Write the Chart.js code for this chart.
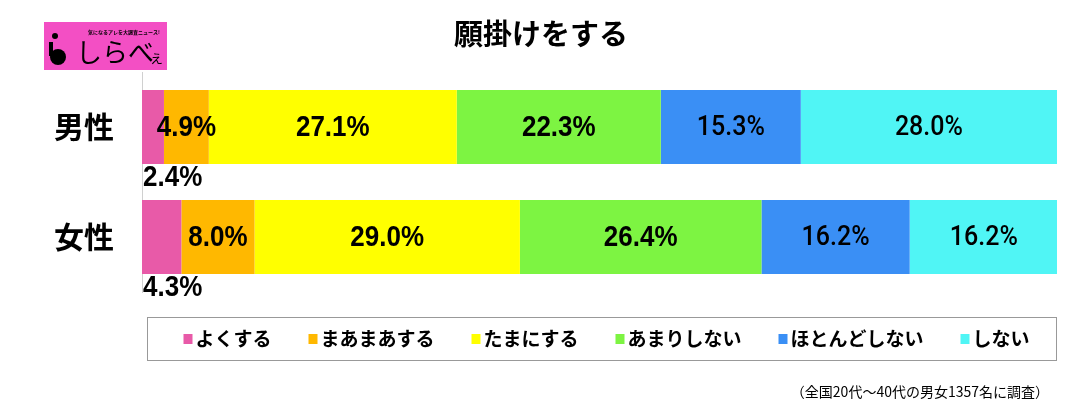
<!DOCTYPE html>
<html>
<head>
<meta charset="utf-8">
<script src="https://cdn.jsdelivr.net/npm/chart.js@4/dist/chart.umd.min.js"></script>
<style>
  body { margin: 0; background: #fff; }
  canvas { display: block; }
</style>
</head>
<body>
<canvas id="myChart" width="1089" height="414"></canvas>
<script>
let categories = ['男性', '女性'];
let seriesNames = ['よくする', 'まあまあする', 'たまにする', 'あまりしない', 'ほとんどしない', 'しない'];

let yokuSuru = [2.4, 4.3];
let maamaaSuru = [4.9, 8.0];
let tamaniSuru = [27.1, 29.0];
let amariShinai = [22.3, 26.4];
let hotondoShinai = [15.3, 16.2];
let shinai = [28.0, 16.2];

let seriesValues = [yokuSuru, maamaaSuru, tamaniSuru, amariShinai, hotondoShinai, shinai];
let colors = ['#E85AA8', '#FFB800', '#FFFF00', '#7DF442', '#3A8FF5', '#50F5F5'];

let title = '願掛けをする';
let footnote = '（全国20代～40代の男女1357名に調査）';

let jpFont = '"Noto Sans CJK JP", "Noto Sans", sans-serif';

// values on the bars
let barLabels = {
    id: 'barLabels',
    afterDatasetsDraw(chart) {
        let ctx = chart.ctx;
        ctx.save();
        ctx.fillStyle = '#000';
        chart.data.datasets.forEach((ds, i) => {
            let meta = chart.getDatasetMeta(i);
            meta.data.forEach((bar, j) => {
                let txt = ds.data[j].toFixed(1) + '%';
                if (i >= 4) {
                    ctx.font = '500 25px Roboto, "Liberation Sans", sans-serif';
                } else {
                    ctx.font = 'bold 26px "Liberation Sans", Arial, sans-serif';
                }
                ctx.textBaseline = 'middle';
                let cx, cy;
                if (i === 0) {
                    ctx.textAlign = 'left';
                    cx = bar.base + 1;
                    cy = bar.y + bar.height / 2 + 14;
                } else {
                    ctx.textAlign = 'center';
                    cx = (bar.x + bar.base) / 2;
                    cy = bar.y + 1;
                }
                ctx.save();
                ctx.translate(cx, cy);
                ctx.scale(1, 1.12);
                ctx.fillText(txt, 0, 0);
                ctx.restore();
            });
        });
        ctx.restore();
    }
};

// title, logo, legend box, footnote
let decorations = {
    id: 'decorations',
    afterDraw(chart) {
        let ctx = chart.ctx;
        ctx.save();

        // title
        ctx.fillStyle = '#000';
        ctx.font = 'bold 29px ' + jpFont;
        ctx.textAlign = 'center';
        ctx.textBaseline = 'middle';
        ctx.fillText(title, 541, 34);

        // logo
        ctx.fillStyle = '#F34FC4';
        ctx.fillRect(44, 22, 123, 48);
        ctx.fillStyle = '#000';
        ctx.beginPath();
        ctx.arc(58, 57, 8, 0, Math.PI * 2);
        ctx.fill();
        ctx.beginPath();
        ctx.arc(55, 36, 3, 0, Math.PI * 2);
        ctx.fill();
        ctx.lineWidth = 4;
        ctx.strokeStyle = '#000';
        ctx.beginPath();
        ctx.moveTo(51, 42);
        ctx.lineTo(51, 56);
        ctx.stroke();
        ctx.font = '26px ' + jpFont;
        ctx.textAlign = 'left';
        ctx.fillText('しらべ', 76, 52);
        ctx.font = '15px ' + jpFont;
        ctx.fillText('ぇ', 149, 57);
        ctx.font = 'bold 5px ' + jpFont;
        ctx.fillText('気になるアレを大調査ニュース!', 88, 32);

        // legend box
        ctx.strokeStyle = '#999';
        ctx.lineWidth = 1;
        ctx.strokeRect(147.5, 317.5, 909, 43);
        ctx.font = 'bold 19px ' + jpFont;
        ctx.textBaseline = 'middle';
        let sq = 9, gap = 3, spacing = 37;
        let widths = seriesNames.map(n => sq + gap + ctx.measureText(n).width);
        let total = widths.reduce((a, b) => a + b, 0) + spacing * (seriesNames.length - 1);
        let x = 152 + (909 - total) / 2;
        let y = 339;
        seriesNames.forEach((n, i) => {
            ctx.fillStyle = colors[i];
            ctx.fillRect(x, y - 5, sq, sq + 1);
            ctx.fillStyle = '#000';
            ctx.fillText(n, x + sq + gap, y);
            x += widths[i] + spacing;
        });

        // footnote
        ctx.font = '14px ' + jpFont;
        ctx.textAlign = 'right';
        ctx.fillText(footnote, 1049, 392);

        ctx.restore();
    }
};

let ctx = document.getElementById('myChart').getContext('2d');
let myChart = new Chart(ctx, {
    type: 'bar',
    data: {
        labels: categories,
        datasets: seriesValues.map((vals, i) => ({
            label: seriesNames[i],
            data: vals,
            backgroundColor: colors[i],
            borderWidth: 0,
            barPercentage: 0.673,
            categoryPercentage: 1
        }))
    },
    options: {
        indexAxis: 'y',
        responsive: false,
        animation: false,
        layout: {
            padding: { top: 72, bottom: 122, left: 0, right: 32 }
        },
        plugins: {
            legend: { display: false },
            tooltip: { enabled: false }
        },
        scales: {
            x: {
                stacked: true,
                display: false,
                min: 0,
                max: 100
            },
            y: {
                stacked: true,
                afterFit(scale) { scale.width = 142; },
                grid: { display: false, drawTicks: false },
                border: { display: true, color: '#d0d0d0', width: 1 },
                ticks: {
                    padding: 28,
                    color: '#000',
                    font: { family: jpFont, size: 30, weight: 'bold' }
                }
            }
        }
    },
    plugins: [barLabels, decorations]
});
</script>
</body>
</html>
